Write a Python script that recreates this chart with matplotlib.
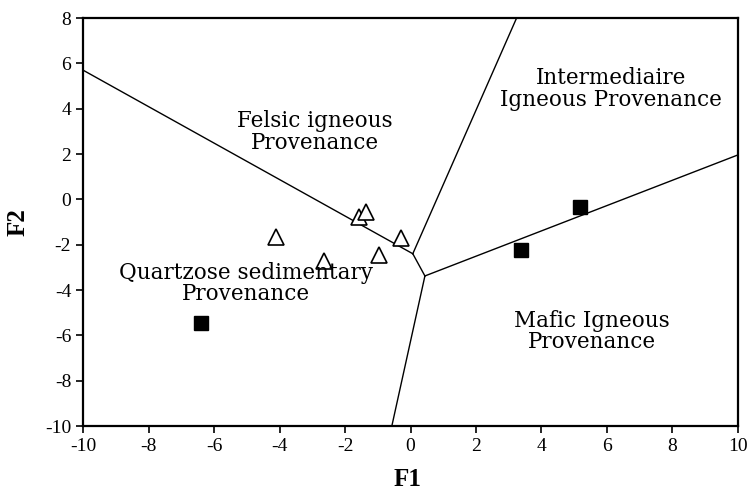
import matplotlib.pyplot as plt

plt.rcParams['axes.unicode_minus'] = False

# discriminant function scores of the samples
tri_f1 = [-4.12, -2.64, -1.56, -1.37, -0.29, -0.95]
tri_f2 = [-1.65, -2.72, -0.77, -0.54, -1.69, -2.45]
sq_f1 = [-6.40, 5.18, 3.36]
sq_f2 = [-5.47, -0.32, -2.23]

# field boundaries (start point, end point)
boundaries = [
    ((-10.0, 5.7), (0.07, -2.4)),
    ((0.07, -2.4), (3.24, 8.0)),
    ((0.07, -2.4), (0.44, -3.38)),
    ((0.44, -3.38), (10.0, 1.96)),
    ((0.44, -3.38), (-0.57, -10.0)),
]

# field names and where they sit
fields = ["Felsic igneous\nProvenance",
          "Intermediaire\nIgneous Provenance",
          "Quartzose sedimentary\nProvenance",
          "Mafic Igneous\nProvenance"]
field_xy = [(-2.92, 2.97), (6.12, 4.87), (-5.02, -3.73), (5.54, -5.83)]

fig = plt.figure(figsize=(7.48, 4.96), dpi=100)
ax = fig.add_axes([0.111, 0.1411, 0.8756, 0.8226])

for (x0, y0), (x1, y1) in boundaries:
    ax.plot([x0, x1], [y0, y1], color='black', lw=1.0)

ax.plot(tri_f1, tri_f2, linestyle='none', marker='^', markersize=11,
        markerfacecolor='white', markeredgecolor='black', markeredgewidth=1.2)
ax.plot(sq_f1, sq_f2, linestyle='none', marker='s', markersize=10,
        markerfacecolor='black', markeredgecolor='black')

for name, (tx, ty) in zip(fields, field_xy):
    ax.text(tx, ty, name, ha='center', va='center', fontsize=15.5,
            family='DejaVu Serif', linespacing=0.95)

ax.set_xlim(-10, 10)
ax.set_ylim(-10, 8)
ax.set_xticks(range(-10, 11, 2))
ax.set_yticks(range(-10, 9, 2))
ax.tick_params(direction='out', length=5, width=1.2, labelsize=14)
for lab in ax.get_xticklabels() + ax.get_yticklabels():
    lab.set_family('Liberation Serif')
for side in ax.spines:
    ax.spines[side].set_linewidth(1.6)

ax.set_xlabel('F1', fontsize=18, fontweight='bold', family='Liberation Serif')
ax.set_ylabel('F2', fontsize=18, fontweight='bold', family='Liberation Serif')
ax.xaxis.set_label_coords(0.496, -0.103)
ax.yaxis.set_label_coords(-0.082, 0.5)

fig.savefig('out.png', dpi=100)
